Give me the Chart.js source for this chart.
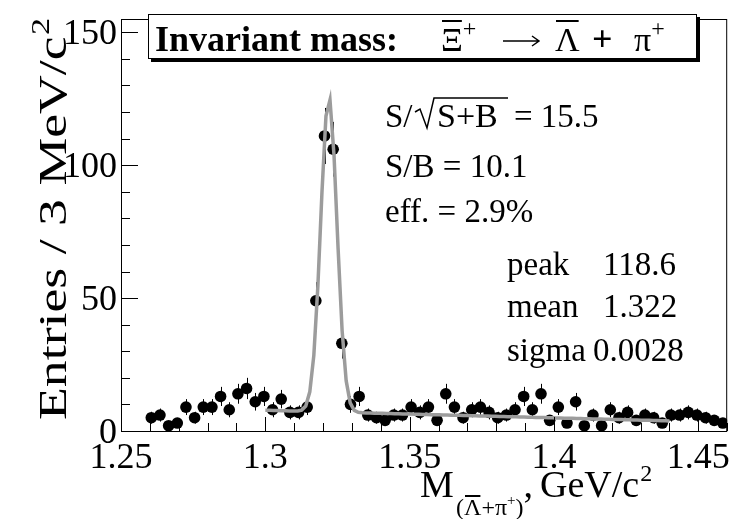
<!DOCTYPE html>
<html>
<head>
<meta charset="utf-8">
<script src="https://cdn.jsdelivr.net/npm/chart.js@4/dist/chart.umd.min.js"></script>
<style>
  html, body { margin: 0; padding: 0; background: #ffffff; }
  canvas { display: block; }
</style>
</head>
<body>
<canvas id="graficoMassa" width="733" height="519"></canvas>
<script>
// bin centres (GeV/c^2), 3 MeV bins
const mass = [
    1.2605, 1.2635, 1.2665, 1.2695, 1.2725, 1.2755, 1.2785, 1.2815, 1.2845, 1.2875,
    1.2905, 1.2935, 1.2965, 1.2995, 1.3025, 1.3055, 1.3085, 1.3115, 1.3145, 1.3175,
    1.3205, 1.3235, 1.3265, 1.3295, 1.3325, 1.3355, 1.3385, 1.3415, 1.3445, 1.3475,
    1.3505, 1.3535, 1.3565, 1.3595, 1.3625, 1.3655, 1.3685, 1.3715, 1.3745, 1.3775,
    1.3805, 1.3835, 1.3865, 1.3895, 1.3925, 1.3955, 1.3985, 1.4015, 1.4045, 1.4075,
    1.4105, 1.4135, 1.4165, 1.4195, 1.4225, 1.4255, 1.4285, 1.4315, 1.4345, 1.4375,
    1.4405, 1.4435, 1.4465, 1.4495, 1.4525, 1.4555, 1.4585
];
const entries = [
    5, 6, 2, 3, 9, 5, 9, 9, 13, 8,
    14, 16, 11, 13, 8, 12, 7, 7, 9, 49,
    111, 106, 33, 10, 13, 6, 5, 4, 6, 6,
    9, 7, 9, 4, 14, 9, 5, 8, 9, 7,
    5, 6, 8, 13, 8, 14, 4, 9, 3, 11,
    2, 6, 2, 8, 5, 7, 4, 6, 5, 3,
    6, 6, 7, 6, 5, 4, 3
];

const xTicks = [1.25, 1.3, 1.35, 1.4, 1.45];
const xTickLabels = ["1.25", "1.3", "1.35", "1.4", "1.45"];
const yTicks = [0, 50, 100, 150];
const yTickLabels = ["0", "50", "100", "150"];

// gaus + pol1 fit
const fitPeak = 118.6;
const fitMean = 1.322;
const fitSigma = 0.0028;
const fitRange = [1.30, 1.44];
const bgAtStart = 7.8;
const bgAtEnd = 3.8;

const fitCurve = [];
for (let i = 0; i <= 100; i++) {
    const m = fitRange[0] + (fitRange[1] - fitRange[0]) * i / 100;
    const bg = bgAtStart + (bgAtEnd - bgAtStart) * (m - fitRange[0]) / (fitRange[1] - fitRange[0]);
    const g = fitPeak * Math.exp(-0.5 * Math.pow((m - fitMean) / fitSigma, 2));
    fitCurve.push({ x: m, y: g + bg });
}

const serif = "'Liberation Serif', 'DejaVu Serif', serif";

function text(ctx, s, x, y, size, opts = {}) {
    ctx.font = (opts.bold ? "bold " : "") + size + "px " + serif;
    ctx.textAlign = opts.align || "left";
    ctx.textBaseline = "alphabetic";
    ctx.fillText(s, x, y);
    return ctx.measureText(s).width;
}

function width(ctx, s, size, bold) {
    ctx.font = (bold ? "bold " : "") + size + "px " + serif;
    return ctx.measureText(s).width;
}

function overline(ctx, x1, x2, y, w) {
    ctx.beginPath();
    ctx.lineWidth = w || 2;
    ctx.moveTo(x1, y);
    ctx.lineTo(x2, y);
    ctx.stroke();
}

const histPlugin = {
    id: "histFrame",
    beforeDatasetsDraw(chart) {
        // sqrt(N) error bars
        const { ctx, scales: { x, y } } = chart;
        ctx.save();
        ctx.strokeStyle = "#000000";
        ctx.lineWidth = 1;
        mass.forEach((m, i) => {
            const n = entries[i];
            const e = Math.sqrt(n);
            const px = Math.round(x.getPixelForValue(m)) + 0.5;
            ctx.beginPath();
            ctx.moveTo(px, y.getPixelForValue(n + e));
            ctx.lineTo(px, y.getPixelForValue(Math.max(0, n - e)));
            ctx.stroke();
        });
        ctx.restore();
    },
    afterDraw(chart) {
        const { ctx, chartArea: a, scales: { x, y } } = chart;
        ctx.save();
        ctx.fillStyle = "#000000";
        ctx.strokeStyle = "#000000";

        // frame
        ctx.lineWidth = 1;
        ctx.strokeRect(a.left + 0.5, a.top + 0.5, a.right - a.left - 1, a.bottom - a.top);

        // ticks, drawn inside the frame
        ctx.beginPath();
        for (let v = 1.25; v <= 1.4601; v += 0.01) {
            const px = Math.round(x.getPixelForValue(v)) + 0.5;
            const major = xTicks.some(t => Math.abs(t - v) < 1e-6);
            ctx.moveTo(px, a.bottom);
            ctx.lineTo(px, a.bottom - (major ? 14 : 8));
        }
        for (let v = 0; v <= 150; v += 10) {
            const py = Math.round(y.getPixelForValue(v)) + 0.5;
            const major = yTicks.includes(v);
            ctx.moveTo(a.left, py);
            ctx.lineTo(a.left + (major ? 17 : 9), py);
        }
        ctx.stroke();

        // tick labels
        xTicks.forEach((v, i) => text(ctx, xTickLabels[i], x.getPixelForValue(v), 468, 36, { align: "center" }));
        yTicks.forEach((v, i) => text(ctx, yTickLabels[i], 117, y.getPixelForValue(v) + 12, 36, { align: "right" }));

        // y title, spread along the axis from y=420 up to the top
        ctx.save();
        ctx.translate(66, 420);
        ctx.rotate(-Math.PI / 2);
        const yTitleW = width(ctx, "Entries / 3 MeV/c", 41) + 1 + width(ctx, "2", 26);
        ctx.scale(402 / yTitleW, 1);
        const wy = text(ctx, "Entries / 3 MeV/c", 0, 0, 41);
        text(ctx, "2", wy + 1, -17, 26);
        ctx.restore();

        // x title
        text(ctx, "M", 420, 497, 38);
        let sw = text(ctx, "(", 456, 515, 24);
        const lamX = 456 + sw;
        sw += text(ctx, "Λ", lamX, 515, 24);
        overline(ctx, lamX + 1, 456 + sw - 1, 496, 2);
        sw += text(ctx, "+π", 456 + sw, 515, 24);
        sw += text(ctx, "+", 456 + sw, 505, 15);
        sw += text(ctx, ")", 456 + sw, 515, 24);
        text(ctx, ",", 456 + sw, 497, 38);
        const gw = text(ctx, "GeV/c", 540, 497, 38);
        text(ctx, "2", 541 + gw, 481, 24);

        // title box with shadow
        ctx.fillStyle = "#000000";
        ctx.fillRect(151, 17, 549, 45);
        ctx.fillStyle = "#ffffff";
        ctx.fillRect(148, 14, 548, 44);
        ctx.lineWidth = 1;
        ctx.strokeRect(148.5, 14.5, 548, 44);
        ctx.fillStyle = "#000000";
        text(ctx, "Invariant mass:", 155, 51, 36, { bold: true });
        const xiW = text(ctx, "Ξ", 441, 51, 34);
        overline(ctx, 442, 441 + xiW - 1, 21, 2);
        text(ctx, "+", 441 + xiW, 36, 24);
        // long arrow
        ctx.lineWidth = 1.5;
        ctx.beginPath();
        ctx.moveTo(503, 41);
        ctx.lineTo(539, 41);
        ctx.moveTo(532, 36);
        ctx.lineTo(539, 41);
        ctx.lineTo(532, 46);
        ctx.stroke();
        const laW = text(ctx, "Λ", 555, 51, 34);
        overline(ctx, 556, 555 + laW - 1, 21, 2);
        text(ctx, "+", 592, 51, 36, { bold: true });
        const piW = text(ctx, "π", 634, 51, 34);
        text(ctx, "+", 634 + piW, 36, 24);

        // fit summary
        text(ctx, "S/", 385, 127, 33);
        // radical sign over S+B
        ctx.lineWidth = 1.5;
        ctx.beginPath();
        ctx.moveTo(415, 112);
        ctx.lineTo(420, 109);
        ctx.lineTo(427, 128);
        ctx.lineTo(434, 98);
        ctx.lineTo(508, 98);
        ctx.stroke();
        text(ctx, "S+B", 437, 127, 34);
        text(ctx, "= 15.5", 514, 127, 33);
        text(ctx, "S/B = 10.1", 385, 177, 33);
        text(ctx, "eff. = 2.9%", 385, 222, 33);
        text(ctx, "peak", 507, 275, 33);
        text(ctx, "118.6", 603, 275, 33);
        text(ctx, "mean", 507, 317, 33);
        text(ctx, "1.322", 603, 317, 33);
        text(ctx, "sigma", 507, 361, 33);
        text(ctx, "0.0028", 593, 361, 33);

        ctx.restore();
    }
};

new Chart(document.getElementById("graficoMassa"), {
    type: "scatter",
    data: {
        datasets: [{
            label: "fit",
            data: fitCurve,
            showLine: true,
            borderColor: "#9c9c9c",
            borderWidth: 3.5,
            pointRadius: 0,
            tension: 0,
            order: 0
        }, {
            label: "data",
            data: mass.map((m, i) => ({ x: m, y: entries[i] })),
            backgroundColor: "#000000",
            borderColor: "#000000",
            pointRadius: 5.8,
            pointBorderWidth: 0,
            order: 1
        }]
    },
    options: {
        responsive: false,
        animation: false,
        devicePixelRatio: 1,
        layout: { padding: { left: 121, top: 19, right: 3, bottom: 88 } },
        plugins: {
            legend: { display: false },
            tooltip: { enabled: false }
        },
        scales: {
            x: { type: "linear", min: 1.25, max: 1.46, display: false },
            y: { type: "linear", min: 0, max: 155, display: false }
        }
    },
    plugins: [histPlugin]
});
</script>
</body>
</html>
